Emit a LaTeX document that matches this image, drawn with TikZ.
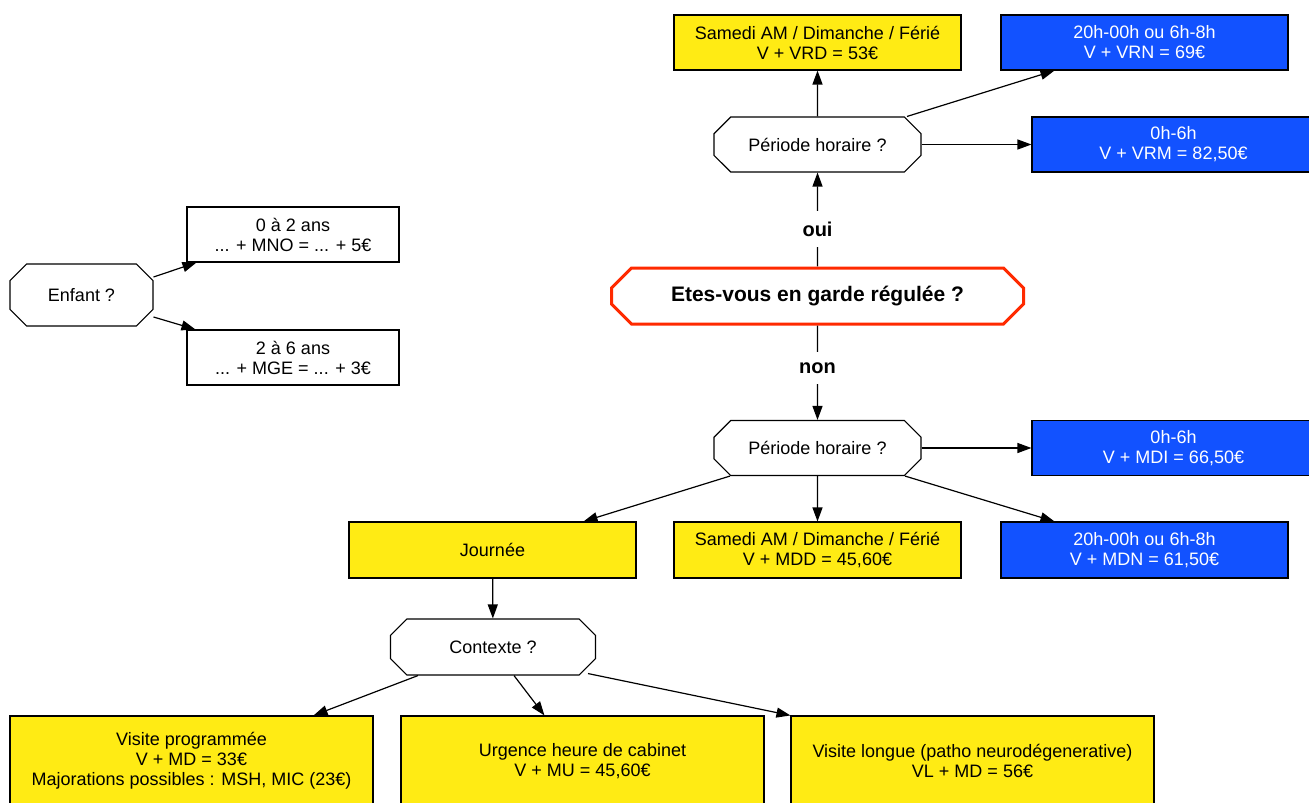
\documentclass[tikz,border=0pt]{standalone}
\usepackage{fontspec}
\setmainfont{Liberation Sans}
\usetikzlibrary{shapes.misc,arrows.meta}
\definecolor{ybox}{RGB}{255,235,20}
\definecolor{bbox}{RGB}{18,82,255}
\definecolor{rbord}{RGB}{255,42,0}
\begin{document}
\begin{tikzpicture}[x=1pt,y=-1pt,
  font=\fontsize{18}{20}\selectfont,
  box/.style={draw=black, line width=1.1pt, rectangle, align=center, inner sep=0pt},
  ybx/.style={box, fill=ybox},
  bbx/.style={box, fill=bbox, text=white},
  wbx/.style={box, fill=white},
  oct/.style={draw=black, line width=1.1pt, chamfered rectangle, chamfered rectangle xsep=10pt, chamfered rectangle ysep=10pt, inner sep=0pt, fill=white, align=center},
  arr/.style={-{Triangle[length=14pt,width=10pt]}, line width=1.2pt},
  lbl/.style={fill=white, font=\fontsize{20}{22}\selectfont\bfseries, inner xsep=6pt, inner ysep=11pt}
]
\useasboundingbox (0,0) rectangle (1309,803);

% main question
\node[oct, draw=rbord, line width=3pt, minimum width=412pt, minimum height=56pt,
      font=\fontsize{21}{24}\selectfont\bfseries] (main) at (817.5,296) {Etes-vous en garde régulée ?};

% top branch
\node[oct, minimum width=207pt, minimum height=55pt] (ptop) at (817.5,144.5) {Période horaire ?};
\node[ybx, minimum width=287pt, minimum height=55pt] (ytop) at (817.5,42.5) {Samedi AM / Dimanche / Férié\\V + VRD = 53€};
\node[bbx, minimum width=287pt, minimum height=55pt] (btopa) at (1144.5,42.5) {20h-00h ou 6h-8h\\V + VRN = 69€};
\node[bbx, minimum width=283pt, minimum height=55pt] (btopb) at (1173.5,144.5) {0h-6h\\V + VRM = 82,50€};

% bottom branch
\node[oct, minimum width=207pt, minimum height=55pt] (pbot) at (817.5,448) {Période horaire ?};
\node[bbx, minimum width=283pt, minimum height=55pt] (bmdi) at (1173.5,448) {0h-6h\\V + MDI = 66,50€};
\node[ybx, minimum width=287pt, minimum height=56pt] (jour) at (492.5,550) {Journée};
\node[ybx, minimum width=287pt, minimum height=56pt] (ybot) at (817.5,550) {Samedi AM / Dimanche / Férié\\V + MDD = 45,60€};
\node[bbx, minimum width=287pt, minimum height=56pt] (bbot) at (1144.5,550) {20h-00h ou 6h-8h\\V + MDN = 61,50€};

\node[oct, minimum width=205pt, minimum height=56pt] (ctx) at (493,647) {Contexte ?};
\node[ybx, minimum width=363pt, minimum height=90pt] (va) at (191.5,761) {Visite programmée\\V + MD = 33€\\Majorations possibles : MSH, MIC (23€)};
\node[ybx, minimum width=363pt, minimum height=90pt] (vb) at (582.5,761) {Urgence heure de cabinet\\V + MU = 45,60€};
\node[ybx, minimum width=363pt, minimum height=90pt] (vc) at (972.5,761) {Visite longue (patho neurodégenerative)\\VL + MD = 56€};

% child
\node[oct, minimum width=143pt, minimum height=62pt] (enf) at (81.5,295) {Enfant ?};
\node[wbx, minimum width=212pt, minimum height=55pt] (ea) at (293,234.5) {0 à 2 ans\\... + MNO = ... + 5€};
\node[wbx, minimum width=212pt, minimum height=55pt] (eb) at (293,357.5) {2 à 6 ans\\... + MGE = ... + 3€};

% connectors
\draw[arr] (main) -- node[lbl, pos=0.4] {oui} (ptop);
\draw[arr] (ptop) -- (ytop);
\draw[arr] ([xshift=89.5pt]ptop.north) -- ([xshift=54pt]btopa.south west);
\draw[arr] (ptop.east) -- (btopb.west);

\draw[arr] (main) -- node[lbl, pos=0.45] {non} (pbot);
\draw[arr] (pbot.east) -- (bmdi.west);
\draw[arr] ([xshift=-87.5pt]pbot.south) -- ([xshift=-53pt]jour.north east);
\draw[arr] (pbot) -- (ybot);
\draw[arr] ([xshift=87.5pt]pbot.south) -- ([xshift=54pt]bbot.north west);

\draw[arr] (jour) -- (ctx);
\draw[arr] ([xshift=-75pt]ctx.south) -- ([xshift=-60pt]va.north east);
\draw[arr] ([xshift=21pt]ctx.south) -- ([xshift=144pt]vb.north west);
\draw[arr] ([xshift=95pt,yshift=2pt]ctx.south) -- (vc.north west);

\draw[arr] ([yshift=18pt]enf.east) -- ([xshift=10pt]ea.south west);
\draw[arr] ([yshift=-22pt]enf.east) -- ([xshift=9pt]eb.north west);
\end{tikzpicture}
\end{document}
